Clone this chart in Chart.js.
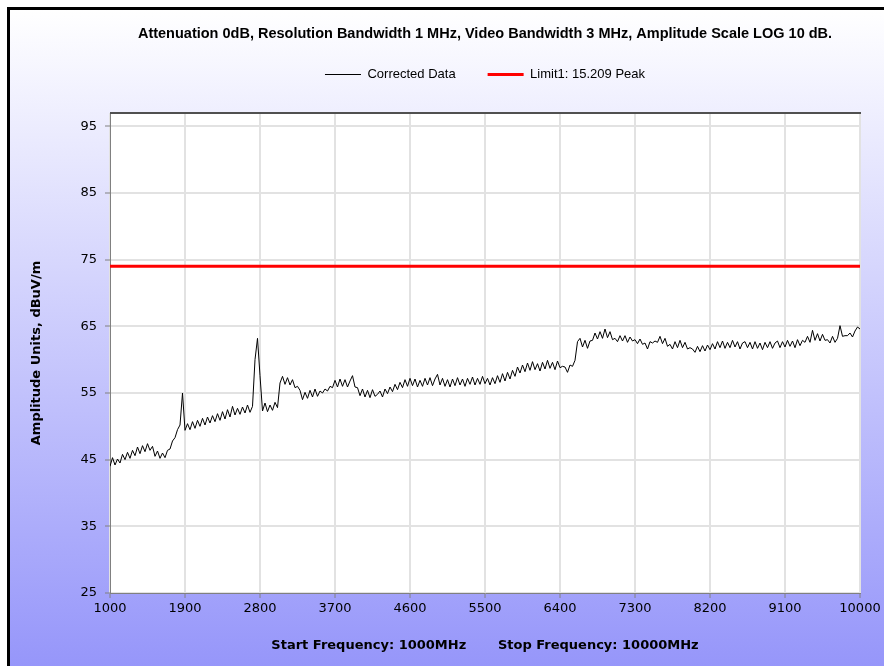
<!DOCTYPE html>
<html>
<head>
<meta charset="utf-8">
<script src="https://cdn.jsdelivr.net/npm/chart.js@4.4.1/dist/chart.umd.min.js"></script>
<style>
  html, body { margin: 0; padding: 0; background: #fff; }
  canvas { display: block; }
</style>
</head>
<body>
<canvas id="spectre" width="884" height="666"></canvas>
<script>
// balayage : 1000 MHz -> 10000 MHz, un point tous les 30 MHz
const freq_start = 1000
const freq_step = 30
const corrected_data = [
  44.0, 45.3, 44.2, 45.1, 44.5, 45.8, 45.0, 46.1, 45.2, 46.4,
  45.6, 46.9, 45.9, 47.1, 46.2, 47.4, 46.4, 47.0, 45.5, 46.3,
  45.2, 46.0, 45.3, 46.4, 46.6, 47.8, 48.3, 49.5, 50.2, 55.0,
  49.4, 50.4, 49.5, 50.7, 49.7, 50.9, 50.0, 51.2, 50.2, 51.4,
  50.5, 51.6, 50.7, 51.9, 50.9, 52.2, 51.1, 52.5, 51.4, 53.0,
  51.7, 52.7, 51.8, 52.9, 52.0, 53.2, 52.1, 53.0, 60.0, 63.2,
  57.6, 52.3, 53.5, 52.2, 53.2, 52.4, 53.6, 52.8, 56.5, 57.5,
  56.3, 57.3, 56.2, 57.0, 55.8, 56.0, 55.4, 54.0, 55.1, 54.2,
  55.4, 54.4, 55.6, 54.5, 55.3, 55.0, 55.6, 55.3, 56.0, 55.8,
  56.9, 55.9, 57.1, 56.0, 57.0, 55.9, 56.8, 57.6, 55.9, 55.8,
  54.6, 55.6, 54.4, 55.4, 54.3, 55.5, 54.5, 54.8, 55.3, 54.4,
  55.6, 54.9, 55.9, 55.2, 56.3, 55.5, 56.6, 55.8, 57.0, 56.0,
  57.2, 56.1, 57.1, 55.9, 56.9, 56.0, 57.2, 56.2, 57.3, 56.1,
  57.1, 57.8, 56.2, 57.2, 56.0, 57.0, 55.9, 57.1, 56.1, 57.3,
  56.2, 57.1, 56.0, 57.2, 56.3, 57.4, 56.2, 57.2, 56.3, 57.5,
  56.4, 57.2, 56.2, 57.3, 56.4, 57.6, 56.6, 57.9, 56.8, 58.1,
  57.1, 58.4, 57.5, 58.9, 58.0, 59.2, 58.2, 59.5, 58.4, 59.7,
  58.5, 59.4, 58.3, 59.6, 58.6, 59.9, 58.7, 59.6, 58.5, 59.8,
  58.8, 59.0, 58.9, 58.1, 59.2, 59.0, 59.9, 62.7, 63.2, 61.9,
  62.9, 61.7, 62.8, 62.9, 64.0, 63.1, 64.2, 63.2, 64.6, 63.3,
  64.2, 63.0, 63.2, 62.7, 63.6, 62.8, 63.6, 62.6, 63.4, 62.8,
  63.0, 62.4, 63.1, 62.3, 62.5, 61.6, 62.7, 62.5, 62.8, 62.6,
  63.5, 62.4, 63.2, 62.0, 62.3, 61.6, 62.7, 61.8, 62.9, 61.8,
  62.6, 61.6, 61.8, 61.6, 61.1, 62.0, 61.2, 62.1, 61.3, 62.2,
  61.5, 62.4, 61.6, 62.7, 61.8, 62.8, 61.7, 62.6, 61.8, 62.9,
  61.9, 62.7, 61.6, 62.5, 62.7, 61.8, 62.6, 61.6, 62.7, 61.7,
  62.5, 61.5, 62.6, 61.8, 62.7, 61.7, 62.5, 62.8, 61.8, 62.7,
  61.9, 62.9, 62.0, 62.8, 61.8, 63.0, 62.1, 62.9, 62.6, 63.5,
  62.6, 64.4, 62.9, 63.9, 62.8, 63.8, 62.9, 63.0, 62.5, 63.5,
  62.6, 63.2, 65.1, 63.5, 63.6, 63.6, 64.0, 63.4, 64.3, 64.9,
  64.6
]
const limit_freq = [1000, 10000]
const limit_value = [74, 74]
const x_ticks = [1000, 1900, 2800, 3700, 4600, 5500, 6400, 7300, 8200, 9100, 10000]
const y_ticks = [25, 35, 45, 55, 65, 75, 85, 95]

const titre = 'Attenuation 0dB, Resolution Bandwidth 1 MHz, Video Bandwidth 3 MHz, Amplitude Scale LOG 10 dB.'
const titre_x = 'Start Frequency: 1000MHz       Stop Frequency: 10000MHz'
const titre_y = 'Amplitude Units, dBuV/m'

const points_mesure = corrected_data.map((v, i) => ({x: freq_start + i * freq_step, y: v}))
const points_limite = limit_freq.map((f, i) => ({x: f, y: limit_value[i]}))

const fond = {
    id: 'fond',
    beforeDraw(chart){
        const ctx = chart.ctx
        const w = chart.width
        const h = chart.height
        ctx.save()
        ctx.fillStyle = '#ffffff'
        ctx.fillRect(0, 0, w, h)
        const g = ctx.createLinearGradient(0, 10, 0, h)
        g.addColorStop(0, '#ffffff')
        g.addColorStop(1, '#9696fa')
        ctx.fillStyle = g
        ctx.fillRect(10, 10, w - 10, h - 10)
        ctx.fillStyle = '#000000'
        ctx.fillRect(7, 7, w - 7, 3)
        ctx.fillRect(7, 7, 3, h - 7)
        const a = chart.chartArea
        ctx.fillStyle = '#ffffff'
        ctx.fillRect(a.left, a.top, a.right - a.left, a.bottom - a.top)
        ctx.restore()
    },
    afterDraw(chart){
        const ctx = chart.ctx
        const a = chart.chartArea
        ctx.save()
        ctx.strokeStyle = '#505050'
        ctx.lineWidth = 2
        ctx.beginPath()
        ctx.moveTo(a.left, a.top)
        ctx.lineTo(a.right + 1, a.top)
        ctx.stroke()
        ctx.restore()
    }
}

const police = "'Liberation Sans', Arial, sans-serif"
const police_axe = "'DejaVu Sans', Verdana, sans-serif"

new Chart(document.querySelector('#spectre'), {
    type: 'line',
    data: {
        datasets: [{
            label: 'Corrected Data',
            data: points_mesure,
            borderColor: '#000000',
            backgroundColor: '#000000',
            borderWidth: 1,
            pointRadius: 0,
            tension: 0
        }, {
            label: 'Limit1: 15.209 Peak',
            data: points_limite,
            borderColor: '#ff0000',
            backgroundColor: '#ff0000',
            borderWidth: 3,
            pointRadius: 0
        }]
    },
    options: {
        responsive: false,
        animation: false,
        layout: {padding: {left: 10, right: 24, top: 10, bottom: 0}},
        plugins: {
            tooltip: {enabled: false},
            title: {
                display: true,
                fullSize: false,
                text: titre,
                color: '#000000',
                font: {family: police, size: 14.5, weight: 'bold', lineHeight: 0},
                padding: {top: 24, bottom: 2}
            },
            // simple espace sous la légende
            subtitle: {
                display: true,
                fullSize: false,
                weight: 500,
                text: ' ',
                font: {size: 10, lineHeight: 0},
                padding: {top: 22, bottom: 0}
            },
            legend: {
                fullSize: false,
                labels: {
                    usePointStyle: true,
                    pointStyle: 'line',
                    pointStyleWidth: 36,
                    padding: 32,
                    color: '#000000',
                    font: {family: police, size: 13}
                }
            }
        },
        scales: {
            x: {
                type: 'linear',
                min: 1000,
                max: 10000,
                afterBuildTicks: s => { s.ticks = x_ticks.map(v => ({value: v})) },
                afterFit: s => { s.height = 73 },
                grid: {color: '#e2e2e2', lineWidth: 2, tickColor: '#808080', tickLength: 5, tickWidth: 1},
                border: {color: '#808080', width: 1},
                ticks: {
                    color: '#000000',
                    font: {family: police_axe, size: 13},
                    padding: 3,
                    maxRotation: 0,
                    callback: v => String(v)
                },
                title: {
                    display: true,
                    text: titre_x,
                    color: '#000000',
                    font: {family: police_axe, size: 13, weight: 'bold'},
                    padding: {top: 0, bottom: 13}
                }
            },
            y: {
                min: 25,
                max: 97,
                afterBuildTicks: s => { s.ticks = y_ticks.map(v => ({value: v})) },
                afterFit: s => { s.width = 100 },
                grid: {color: '#e2e2e2', lineWidth: 2, tickColor: '#808080', tickLength: 5, tickWidth: 1},
                border: {color: '#808080', width: 1},
                ticks: {
                    color: '#000000',
                    font: {family: police_axe, size: 13},
                    padding: 8,
                    callback: v => String(v)
                },
                title: {
                    display: true,
                    text: titre_y,
                    color: '#000000',
                    font: {family: police_axe, size: 13, weight: 'bold'},
                    padding: {top: 19, bottom: 0}
                }
            }
        }
    },
    plugins: [fond]
})
</script>
</body>
</html>
